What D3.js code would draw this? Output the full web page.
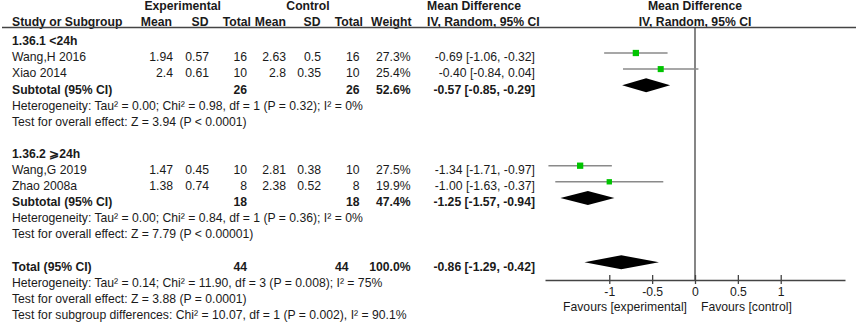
<!DOCTYPE html>
<html>
<head>
<meta charset="utf-8">
<script src="https://cdn.jsdelivr.net/npm/d3@7"></script>
<style>
  body { margin: 0; background: #fff; }
  svg text { font-family: "Liberation Sans", Arial, sans-serif; font-size: 12.2px; fill: #1a1a1a; }
  .b { font-weight: bold; }
</style>
</head>
<body>
<div id="chart"></div>
<script>
// ---- data ----
const studies   = ["Wang,H 2016", "Xiao 2014", "Wang,G 2019", "Zhao 2008a"];
const studyGrp  = [0, 0, 1, 1];
const expMean   = [1.94, 2.4, 1.47, 1.38];
const expSD     = [0.57, 0.61, 0.45, 0.74];
const expN      = [16, 10, 10, 8];
const ctrlMean  = [2.63, 2.8, 2.81, 2.38];
const ctrlSD    = [0.5, 0.35, 0.38, 0.52];
const ctrlN     = [16, 10, 10, 8];
const weights   = [27.3, 25.4, 27.5, 19.9];
const md        = [-0.69, -0.40, -1.34, -1.00];
const ciLow     = [-1.06, -0.84, -1.71, -1.63];
const ciHigh    = [-0.32, 0.04, -0.97, -0.37];

const groups    = ["1.36.1 <24h", "1.36.2 ⩾24h"];
const subExpN   = [26, 18];
const subCtrlN  = [26, 18];
const subWeight = [52.6, 47.4];
const subMd     = [-0.57, -1.25];
const subLow    = [-0.85, -1.57];
const subHigh   = [-0.29, -0.94];
const subHet    = ["Heterogeneity: Tau² = 0.00; Chi² = 0.98, df = 1 (P = 0.32); I² = 0%",
                   "Heterogeneity: Tau² = 0.00; Chi² = 0.84, df = 1 (P = 0.36); I² = 0%"];
const subTest   = ["Test for overall effect: Z = 3.94 (P < 0.0001)",
                   "Test for overall effect: Z = 7.79 (P < 0.00001)"];

const totalExpN = 44, totalCtrlN = 44, totalWeight = 100.0;
const totalMd = -0.86, totalLow = -1.29, totalHigh = -0.42;
const footer = ["Heterogeneity: Tau² = 0.14; Chi² = 11.90, df = 3 (P = 0.008); I² = 75%",
                "Test for overall effect: Z = 3.88 (P = 0.0001)",
                "Test for subgroup differences: Chi² = 10.07, df = 1 (P = 0.002), I² = 90.1%"];

const ticks = [-1, -0.5, 0, 0.5, 1];

// ---- layout ----
const width = 858, height = 322;
const svg = d3.select("#chart").append("svg").attr("width", width).attr("height", height);

const x = d3.scaleLinear().domain([-1.75, 1.75]).range([545, 845]);
const rowY = d3.scaleLinear().domain([0, 1]).range([57, 73.1]);   // text centre per row
const axisY = 280, headLineY = 27.5;

const col = { name: 12, eMean: 173, eSD: 209, eN: 247, cMean: 286, cSD: 321, cN: 359.5, w: 410.5, eff: 535 };
const f2 = v => v.toFixed(2);
const effTxt = (m, l, h) => `${f2(m)} [${f2(l)}, ${f2(h)}]`;

function txt(xp, k, s, anchor, bold) {
  svg.append("text").attr("x", xp).attr("y", rowY(k) + 4.3)
    .attr("text-anchor", anchor || "start").attr("class", bold ? "b" : null).text(s);
}

// header
const hdr = svg.append("g");
[["Experimental", 182.7], ["Control", 308]].forEach(([s, xp]) =>
  hdr.append("text").attr("class", "b").attr("x", xp).attr("y", 10).attr("text-anchor", "middle").text(s));
hdr.append("text").attr("class", "b").attr("x", 427).attr("y", 10).text("Mean Difference");
hdr.append("text").attr("class", "b").attr("x", x(0)).attr("y", 10).attr("text-anchor", "middle").text("Mean Difference");
hdr.append("text").attr("class", "b").attr("x", col.name).attr("y", 26).text("Study or Subgroup");
[["Mean", 172], ["SD", 208.5], ["Total", 251], ["Mean", 286], ["SD", 320.5], ["Total", 363], ["Weight", 411.5]].forEach(([s, xp]) =>
  hdr.append("text").attr("class", "b").attr("x", xp).attr("y", 26).attr("text-anchor", "end").text(s));
hdr.append("text").attr("class", "b").attr("x", 427).attr("y", 26).text("IV, Random, 95% CI");
hdr.append("text").attr("class", "b").attr("x", x(0)).attr("y", 26).attr("text-anchor", "middle").text("IV, Random, 95% CI");

svg.append("line").attr("x1", 2).attr("x2", 856).attr("y1", headLineY).attr("y2", headLineY)
  .attr("stroke", "#444").attr("stroke-width", 1.3);

// zero line
svg.append("line").attr("x1", x(0)).attr("x2", x(0)).attr("y1", headLineY).attr("y2", axisY)
  .attr("stroke", "#444").attr("stroke-width", 1.3);

// rows
const diamond = (m, l, h, yc) => {
  const hh = 7;
  svg.append("path")
    .attr("d", `M${x(l)},${yc}L${x(m)},${yc - hh}L${x(h)},${yc}L${x(m)},${yc + hh}Z`)
    .attr("fill", "#000");
};

groups.forEach((g, gi) => {
  const base = gi * 7;        // first study row of this group
  txt(col.name, base - 1, g, "start", true);
  const idx = studies.map((s, i) => i).filter(i => studyGrp[i] === gi);
  idx.forEach((i, j) => {
    const k = base + j;
    txt(col.name, k, studies[i]);
    txt(col.eMean, k, String(expMean[i]), "end");
    txt(col.eSD, k, String(expSD[i]), "end");
    txt(col.eN, k, String(expN[i]), "end");
    txt(col.cMean, k, String(ctrlMean[i]), "end");
    txt(col.cSD, k, String(ctrlSD[i]), "end");
    txt(col.cN, k, String(ctrlN[i]), "end");
    txt(col.w, k, weights[i].toFixed(1) + "%", "end");
    txt(col.eff, k, effTxt(md[i], ciLow[i], ciHigh[i]), "end");
    const yc = rowY(k) - 4;
    svg.append("line").attr("x1", x(ciLow[i])).attr("x2", x(ciHigh[i])).attr("y1", yc).attr("y2", yc)
      .attr("stroke", "#8a8a8a").attr("stroke-width", 1.5);
    const sz = Math.sqrt(weights[i]) * 1.2;
    svg.append("rect").attr("x", x(md[i]) - sz / 2).attr("y", yc - sz / 2)
      .attr("width", sz).attr("height", sz).attr("fill", "#00c400");
  });
  const ks = base + idx.length;
  txt(col.name, ks, "Subtotal (95% CI)", "start", true);
  txt(col.eN, ks, String(subExpN[gi]), "end", true);
  txt(col.cN, ks, String(subCtrlN[gi]), "end", true);
  txt(col.w, ks, subWeight[gi].toFixed(1) + "%", "end", true);
  txt(col.eff, ks, effTxt(subMd[gi], subLow[gi], subHigh[gi]), "end", true);
  diamond(subMd[gi], subLow[gi], subHigh[gi], rowY(ks) - 4);
  txt(col.name, ks + 1, subHet[gi]);
  txt(col.name, ks + 2, subTest[gi]);
});

// overall
const kt = 13;
txt(col.name, kt, "Total (95% CI)", "start", true);
txt(col.eN, kt, String(totalExpN), "end", true);
txt(348.5, kt, String(totalCtrlN), "end", true);
txt(col.w, kt, totalWeight.toFixed(1) + "%", "end", true);
txt(col.eff, kt, effTxt(totalMd, totalLow, totalHigh), "end", true);
diamond(totalMd, totalLow, totalHigh, rowY(kt) - 4);
footer.forEach((s, i) => txt(col.name, kt + 1 + i, s));

// axis
const ax = svg.append("g").attr("transform", `translate(0,${axisY})`)
  .call(d3.axisBottom(x).tickValues(ticks).tickFormat(d => String(d)).tickSize(4).tickSizeOuter(0));
ax.select(".domain").attr("stroke", "#444").attr("stroke-width", 1.3);
ax.selectAll(".tick line").attr("y1", -5).attr("y2", 4).attr("stroke", "#444").attr("stroke-width", 1.3);
ax.selectAll(".tick text").attr("y", 7).attr("dy", "0.71em")
  .style("font-family", "'Liberation Sans', Arial, sans-serif").style("font-size", "12.2px").attr("fill", "#1a1a1a");
svg.append("text").attr("x", x(0) - 8).attr("y", 311).attr("text-anchor", "end").text("Favours [experimental]");
svg.append("text").attr("x", x(0) + 6).attr("y", 311).text("Favours [control]");
</script>
</body>
</html>
